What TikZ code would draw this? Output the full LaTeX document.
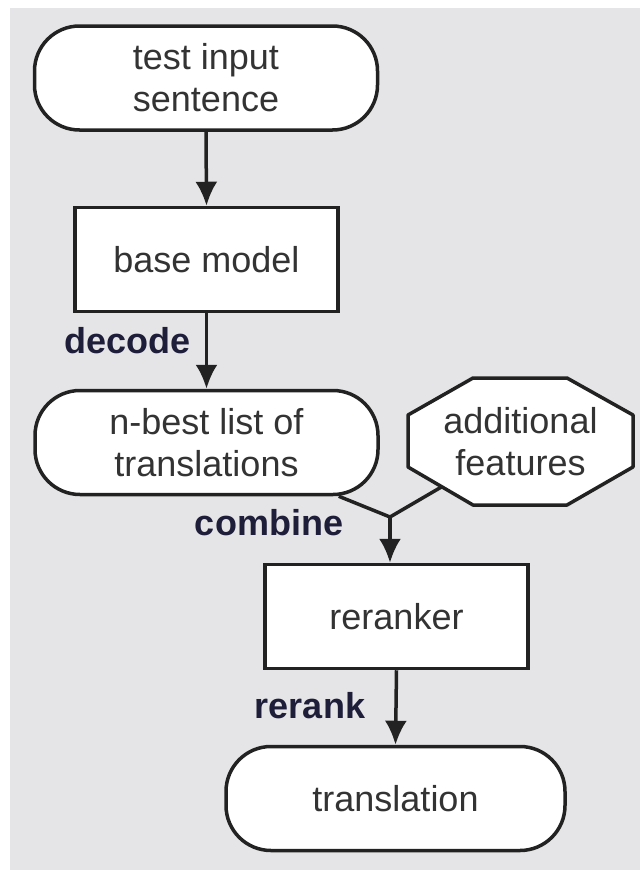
\documentclass[tikz,border=0pt]{standalone}
\usepackage{fontspec}
\setmainfont{Liberation Sans}
\usetikzlibrary{arrows.meta,calc}
\definecolor{bg}{HTML}{E5E5E7}
\definecolor{ln}{HTML}{222222}
\definecolor{tx}{HTML}{333333}
\definecolor{lb}{HTML}{1E1E3A}
\begin{document}
\begin{tikzpicture}[x=1pt,y=-1pt,
  every node/.style={font=\fontsize{36}{42}\selectfont, text=tx, align=center},
  stadium/.style={draw=ln, line width=3.5pt, fill=white, rounded corners=45pt, minimum width=343pt, minimum height=104pt, inner sep=0pt},
  boxnode/.style={draw=ln, line width=3.5pt, fill=white, minimum width=263pt, minimum height=104pt, inner sep=0pt},
  lab/.style={font=\fontsize{36}{42}\selectfont\bfseries, text=lb, anchor=base, inner sep=0pt},
  conn/.style={draw=ln, line width=3.5pt},
  arr/.style={conn, -{Latex[length=24pt,width=22pt]}}
]
\useasboundingbox (0,0) rectangle (640,870);
\fill[bg] (10,8) rectangle (640,870);

\node[stadium] (in) at (206,78) {test input\\sentence};
\node[boxnode] (base) at (206.5,259.5) {base model};
\node[stadium] (nbest) at (206.5,442.5) {n-best list of\\translations};

\coordinate (o1) at (408,415);
\coordinate (o2) at (473,378);
\coordinate (o3) at (567,378);
\coordinate (o4) at (633,415);
\coordinate (o5) at (633,467);
\coordinate (o6) at (567,505);
\coordinate (o7) at (473,505);
\coordinate (o8) at (408,467);
\draw[conn, fill=white, line join=round] (o1) -- (o2) -- (o3) -- (o4) -- (o5) -- (o6) -- (o7) -- (o8) -- cycle;
\node[inner sep=0pt] (add) at (520.5,441.5) {additional\\features};

\node[boxnode] (rer) at (396.5,616.5) {reranker};
\node[stadium, minimum width=339pt] (out) at (395.5,798.5) {translation};

\coordinate (j) at (390,517);
\coordinate (nb) at ([xshift=-41pt]nbest.south east);
\coordinate (ad) at ($(o8)!0.52!(o7)$);

\draw[arr] (in.south) -- (base.north);
\draw[arr] (base.south) -- (nbest.north);
\draw[conn] (nb) -- (j);
\draw[conn] (ad) -- (j);
\draw[arr] (j) -- (j |- rer.north);
\draw[arr] (rer.south) -- (out.north);

\node[lab] (dec) at (127.5,353) {decode};
\node[lab] (comb) at (269,535) {combine};
\node[lab] (rr) at (310,718) {rerank};
\end{tikzpicture}
\end{document}
